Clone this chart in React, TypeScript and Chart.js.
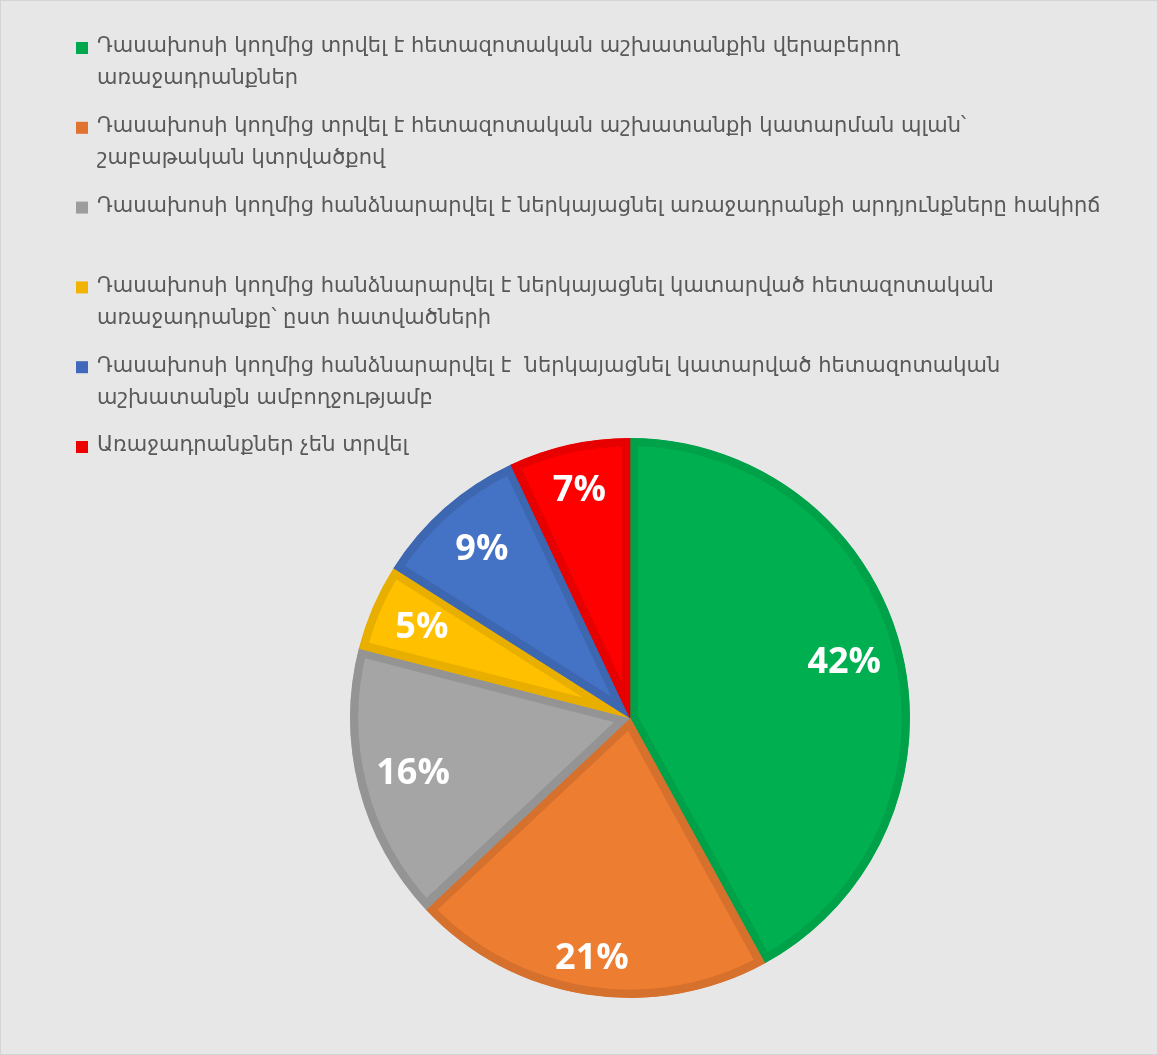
import React, { useEffect, useRef } from "react";
import { Chart, registerables } from "chart.js";

Chart.register(...registerables);

const categories: string[] = [
  "Դասախոսի կողմից տրվել է հետազոտական աշխատանքին վերաբերող\nառաջադրանքներ",
  "Դասախոսի կողմից տրվել է հետազոտական աշխատանքի կատարման պլան՝\nշաբաթական կտրվածքով",
  "Դասախոսի կողմից հանձնարարվել է ներկայացնել առաջադրանքի արդյունքները հակիրճ",
  "Դասախոսի կողմից հանձնարարվել է ներկայացնել կատարված հետազոտական\nառաջադրանքը՝ ըստ հատվածների",
  "Դասախոսի կողմից հանձնարարվել է  ներկայացնել կատարված հետազոտական\nաշխատանքն ամբողջությամբ",
  "Առաջադրանքներ չեն տրվել",
];

const values: number[] = [42, 21, 16, 5, 9, 7];

const fillColors: string[] = ["#00b050", "#ed7d31", "#a5a5a5", "#ffc000", "#4472c4", "#ff0000"];
const borderColors: string[] = ["#00a249", "#d6702d", "#949494", "#e8ae00", "#3e67b2", "#e60000"];
const legendColors: string[] = ["#00a84d", "#e0732f", "#9d9d9d", "#f0b400", "#4169bb", "#ef0000"];
const labelRadiusFactors: number[] = [0.79, 0.87, 0.8, 0.81, 0.8, 0.83];

const legendPlugin = {
  id: "wrapLegend",
  afterDraw(chart: any) {
    const ctx = chart.ctx as CanvasRenderingContext2D;
    ctx.save();
    ctx.font = '21px "DejaVu Sans"';
    ctx.textBaseline = "middle";
    ctx.textAlign = "left";
    (chart.data.labels as string[]).forEach((lab, i) => {
      const y0 = 46 + i * 79.8;
      ctx.fillStyle = legendColors[i];
      ctx.fillRect(75, y0 - 5, 12, 12);
      ctx.fillStyle = "#595959";
      lab.split("\n").forEach((ln, j) => {
        ctx.fillText(ln, 96, y0 + j * 32);
      });
    });
    ctx.restore();
  },
};

const valueLabelPlugin = {
  id: "valueLabels",
  afterDatasetsDraw(chart: any) {
    const ctx = chart.ctx as CanvasRenderingContext2D;
    const meta = chart.getDatasetMeta(0);
    const data = chart.data.datasets[0].data as number[];
    ctx.save();
    ctx.font = 'bold 36px "Open Sans"';
    ctx.fillStyle = "#ffffff";
    ctx.textAlign = "center";
    ctx.textBaseline = "middle";
    meta.data.forEach((arc: any, i: number) => {
      const p = arc.getProps(["x", "y", "startAngle", "endAngle", "outerRadius"], true);
      const mid = (p.startAngle + p.endAngle) / 2;
      const d = p.outerRadius * labelRadiusFactors[i];
      ctx.fillText(data[i] + "%", p.x + Math.cos(mid) * d, p.y + Math.sin(mid) * d);
    });
    ctx.restore();
  },
};

export default function App() {
  const ref = useRef<HTMLCanvasElement | null>(null);

  useEffect(() => {
    if (!ref.current) return;
    const chart = new Chart(ref.current, {
      type: "pie",
      data: {
        labels: categories,
        datasets: [
          {
            data: values,
            backgroundColor: fillColors,
            borderColor: borderColors,
            borderWidth: 8,
            borderAlign: "inner",
          } as any,
        ],
      },
      options: {
        animation: false,
        responsive: false,
        layout: { padding: { top: 437, bottom: 56, left: 349, right: 247 } },
        plugins: {
          legend: { display: false },
          tooltip: { enabled: false },
        },
      },
      plugins: [legendPlugin, valueLabelPlugin],
    });
    return () => chart.destroy();
  }, []);

  return (
    <div
      style={{
        position: "absolute",
        left: 0,
        top: 0,
        width: 1158,
        height: 1055,
        background: "#e7e7e7",
        boxSizing: "border-box",
        border: "1px solid #d4d4d4",
        overflow: "hidden",
      }}
    >
      <canvas ref={ref} width={1156} height={1053} style={{ display: "block", width: 1156, height: 1053 }} />
    </div>
  );
}
